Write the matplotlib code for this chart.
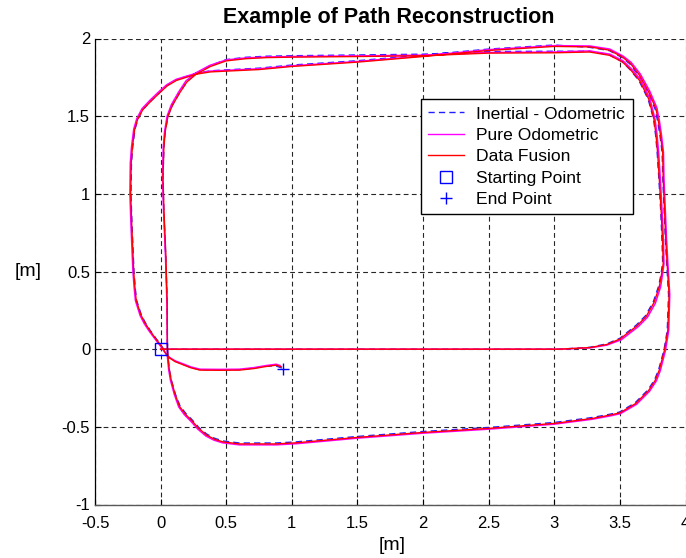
import matplotlib
matplotlib.use("Agg")
import matplotlib.pyplot as plt
from matplotlib.lines import Line2D

plt.rcParams['font.family'] = ['Liberation Sans', 'DejaVu Sans']
plt.rcParams['font.size'] = 12

# Reconstructed robot trajectories [m]
inertial_x = [
    0.00, 1.00, 2.00, 3.04, 3.27, 3.40, 3.50, 3.625, 3.695, 3.755, 3.795, 3.812, 3.826, 3.821, 3.812, 3.797, 3.784, 3.772, 3.757, 3.716, 3.646, 3.577, 3.518, 3.42, 3.27,
    3.00, 2.50, 2.00, 1.50, 1.00, 0.81, 0.65, 0.50, 0.38, 0.27, 0.20, 0.145, 0.09, 0.056, 0.035, 0.025, 0.018, 0.024, 0.039, 0.05, 0.052,
    0.056, 0.066, 0.082, 0.112, 0.148, 0.193, 0.237, 0.292, 0.352, 0.412, 0.476, 0.60, 0.88, 1.03, 1.50, 2.00, 2.50, 3.00, 3.29, 3.418, 3.497, 3.615, 3.714, 3.764, 3.795, 3.836, 3.861, 3.871, 3.857, 3.847, 3.837, 3.827, 3.822, 3.806, 3.79, 3.77, 3.715, 3.645, 3.577, 3.518, 3.42, 3.27,
    3.00, 2.50, 2.00, 1.50, 1.00, 0.75, 0.50, 0.38, 0.27, 0.12, 0.05, -0.008, -0.07, -0.134, -0.173, -0.196, -0.213, -0.222, -0.226, -0.218, -0.203, -0.194, -0.184, -0.148, -0.118, -0.082, -0.038, 0.002, 0.058, 0.112, 0.172, 0.232, 0.30, 0.45, 0.60, 0.71, 0.80, 0.88, 0.935,
]
inertial_y = [
    0.00, 0.00, 0.00, 0.00, 0.012, 0.034, 0.07, 0.155, 0.215, 0.305, 0.405, 0.475, 0.555, 0.70, 0.88, 1.10, 1.27, 1.38, 1.48, 1.608, 1.728, 1.80, 1.85, 1.895, 1.918,
    1.918, 1.916, 1.899, 1.894, 1.889, 1.886, 1.879, 1.864, 1.826, 1.774, 1.722, 1.651, 1.571, 1.50, 1.40, 1.30, 1.11, 0.90, 0.60, 0.30, 0.00,
    -0.05, -0.13, -0.20, -0.288, -0.366, -0.415, -0.452, -0.505, -0.547, -0.574, -0.591, -0.604, -0.604, -0.597, -0.562, -0.53, -0.504, -0.472, -0.44, -0.42, -0.405, -0.346, -0.262, -0.198, -0.133, -0.006, 0.12, 0.35, 0.55, 0.70, 0.90, 1.10, 1.265, 1.372, 1.456, 1.543, 1.65, 1.758, 1.836, 1.877, 1.922, 1.943,
    1.958, 1.932, 1.893, 1.857, 1.829, 1.809, 1.798, 1.792, 1.776, 1.734, 1.698, 1.652, 1.601, 1.544, 1.481, 1.414, 1.30, 1.198, 1.00, 0.80, 0.50, 0.40, 0.317, 0.223, 0.172, 0.124, 0.072, 0.028, -0.048, -0.078, -0.098, -0.118, -0.132, -0.133, -0.132, -0.122, -0.11, -0.108, -0.125,
]

odometric_x = [
    0.00, 1.00, 2.00, 3.04, 3.27, 3.40, 3.51, 3.64, 3.71, 3.77, 3.81, 3.823, 3.836, 3.832, 3.822, 3.808, 3.795, 3.783, 3.768, 3.728, 3.657, 3.585, 3.525, 3.425, 3.27,
    3.00, 2.50, 2.00, 1.50, 1.00, 0.81, 0.65, 0.50, 0.375, 0.265, 0.193, 0.137, 0.082, 0.05, 0.03, 0.02, 0.014, 0.022, 0.037, 0.048, 0.051,
    0.052, 0.061, 0.075, 0.104, 0.138, 0.183, 0.228, 0.285, 0.345, 0.407, 0.473, 0.60, 0.88, 1.03, 1.50, 2.00, 2.50, 3.00, 3.29, 3.425, 3.505, 3.627, 3.727, 3.778, 3.808, 3.848, 3.872, 3.88, 3.866, 3.856, 3.846, 3.836, 3.832, 3.817, 3.802, 3.782, 3.727, 3.656, 3.585, 3.524, 3.423, 3.27,
    3.00, 2.50, 2.00, 1.50, 1.00, 0.75, 0.50, 0.38, 0.27, 0.118, 0.046, -0.014, -0.077, -0.142, -0.182, -0.205, -0.222, -0.231, -0.234, -0.226, -0.211, -0.202, -0.192, -0.156, -0.125, -0.088, -0.043, -0.003, 0.054, 0.11, 0.17, 0.23, 0.30, 0.45, 0.60, 0.71, 0.80, 0.88, 0.91,
]
odometric_y = [
    0.00, 0.00, 0.00, 0.00, 0.008, 0.026, 0.06, 0.145, 0.205, 0.295, 0.40, 0.47, 0.55, 0.70, 0.88, 1.10, 1.27, 1.38, 1.48, 1.615, 1.737, 1.807, 1.856, 1.899, 1.92,
    1.913, 1.91, 1.893, 1.888, 1.884, 1.881, 1.875, 1.862, 1.827, 1.777, 1.727, 1.655, 1.574, 1.502, 1.40, 1.30, 1.11, 0.90, 0.60, 0.30, 0.00,
    -0.05, -0.13, -0.20, -0.29, -0.372, -0.424, -0.462, -0.516, -0.559, -0.586, -0.603, -0.616, -0.616, -0.609, -0.573, -0.541, -0.515, -0.483, -0.451, -0.43, -0.415, -0.355, -0.27, -0.204, -0.138, -0.006, 0.12, 0.35, 0.55, 0.70, 0.90, 1.10, 1.268, 1.378, 1.465, 1.554, 1.662, 1.771, 1.847, 1.887, 1.932, 1.952,
    1.954, 1.928, 1.888, 1.852, 1.824, 1.805, 1.795, 1.79, 1.776, 1.737, 1.702, 1.657, 1.606, 1.548, 1.483, 1.416, 1.30, 1.198, 1.00, 0.80, 0.50, 0.40, 0.313, 0.216, 0.165, 0.117, 0.066, 0.022, -0.046, -0.075, -0.094, -0.114, -0.129, -0.13, -0.129, -0.119, -0.106, -0.097, -0.105,
]

fusion_x = [
    0.00, 1.00, 2.00, 3.04, 3.27, 3.40, 3.50, 3.63, 3.70, 3.76, 3.80, 3.815, 3.83, 3.825, 3.815, 3.80, 3.787, 3.775, 3.76, 3.72, 3.65, 3.58, 3.52, 3.42, 3.27,
    3.00, 2.50, 2.00, 1.50, 1.00, 0.81, 0.65, 0.50, 0.38, 0.27, 0.20, 0.145, 0.09, 0.056, 0.035, 0.025, 0.018, 0.025, 0.04, 0.05, 0.052,
    0.056, 0.066, 0.081, 0.11, 0.145, 0.19, 0.234, 0.29, 0.35, 0.41, 0.475, 0.60, 0.88, 1.03, 1.50, 2.00, 2.50, 3.00, 3.29, 3.42, 3.50, 3.62, 3.72, 3.77, 3.80, 3.84, 3.865, 3.875, 3.86, 3.85, 3.84, 3.83, 3.826, 3.81, 3.795, 3.775, 3.72, 3.65, 3.58, 3.52, 3.42, 3.27,
    3.00, 2.50, 2.00, 1.50, 1.00, 0.75, 0.50, 0.38, 0.27, 0.12, 0.05, -0.008, -0.07, -0.135, -0.175, -0.198, -0.215, -0.224, -0.228, -0.22, -0.205, -0.196, -0.186, -0.15, -0.12, -0.084, -0.04, 0.00, 0.056, 0.11, 0.17, 0.23, 0.30, 0.45, 0.60, 0.71, 0.80, 0.88, 0.92,
]
fusion_y = [
    0.00, 0.00, 0.00, 0.00, 0.01, 0.03, 0.065, 0.15, 0.21, 0.30, 0.40, 0.47, 0.55, 0.70, 0.88, 1.10, 1.27, 1.38, 1.48, 1.61, 1.73, 1.80, 1.849, 1.892, 1.913,
    1.908, 1.906, 1.889, 1.884, 1.880, 1.877, 1.870, 1.856, 1.820, 1.770, 1.720, 1.650, 1.570, 1.500, 1.400, 1.300, 1.110, 0.900, 0.600, 0.300, 0.000,
    -0.05, -0.13, -0.20, -0.29, -0.37, -0.42, -0.457, -0.51, -0.553, -0.58, -0.597, -0.61, -0.61, -0.603, -0.568, -0.536, -0.51, -0.478, -0.446, -0.425, -0.41, -0.35, -0.265, -0.20, -0.135, -0.006, 0.12, 0.35, 0.55, 0.70, 0.90, 1.10, 1.268, 1.375, 1.46, 1.548, 1.655, 1.763, 1.84, 1.88, 1.925, 1.946,
    1.949, 1.923, 1.884, 1.848, 1.820, 1.800, 1.790, 1.785, 1.770, 1.730, 1.695, 1.650, 1.600, 1.543, 1.480, 1.414, 1.300, 1.198, 1.000, 0.800, 0.500, 0.400, 0.315, 0.220, 0.170, 0.122, 0.070, 0.026, -0.05, -0.08, -0.10, -0.12, -0.135, -0.136, -0.135, -0.125, -0.112, -0.103, -0.114,
]

series_labels = ['Inertial - Odometric', 'Pure Odometric', 'Data Fusion', 'Starting Point', 'End Point']
x_ticks = [-0.5, 0, 0.5, 1, 1.5, 2, 2.5, 3, 3.5, 4]
y_ticks = [-1, -0.5, 0, 0.5, 1, 1.5, 2]
x_tick_labels = ['-0.5', '0', '0.5', '1', '1.5', '2', '2.5', '3', '3.5', '4']
y_tick_labels = ['-1', '-0.5', '0', '0.5', '1', '1.5', '2']

W, H = 686, 558
fig = plt.figure(figsize=(W / 100, H / 100), dpi=100)
fig.patch.set_facecolor('white')
ax = fig.add_axes([95 / W, (H - 504.5) / H, (685.5 - 95) / W, (504.5 - 38.5) / H])

ax.plot(inertial_x, inertial_y, color='#2020ff', lw=1.0, linestyle=(0, (4.5, 3.0)), zorder=3)
ax.plot(odometric_x, odometric_y, color='#ff00ff', lw=1.1, zorder=3.1)
ax.plot(fusion_x, fusion_y, color='#ff0000', lw=1.0, zorder=3.2)
ax.plot(inertial_x[0], inertial_y[0], marker='s', ms=8.2, mfc='none', mec='#0000ff', mew=1.0,
        linestyle='none', zorder=4)
ax.plot(inertial_x[-1], inertial_y[-1], marker='+', ms=9, mec='#0000ff', mew=1.0,
        linestyle='none', zorder=4)

ax.set_xlim(-0.5, 4)
ax.set_ylim(-1, 2)
ax.set_xticks(x_ticks)
ax.set_xticklabels(x_tick_labels)
ax.set_yticks(y_ticks)
ax.set_yticklabels(y_tick_labels)
ax.tick_params(direction='in', length=4, width=0.8, labelsize=12)
ax.tick_params(axis='x', pad=8)
ax.tick_params(axis='y', pad=3.5)
ax.grid(True, color='0.15', linestyle=(0, (4.3, 3.0)), linewidth=0.8)

ax.spines['top'].set_visible(False)
ax.spines['right'].set_visible(False)
ax.spines['left'].set_color('black')
ax.spines['left'].set_linewidth(0.9)
ax.spines['bottom'].set_color('0.35')
ax.spines['bottom'].set_linewidth(1.0)

fig.text(388.5 / W, 1 - 17 / H, 'Example of Path Reconstruction', fontsize=15.5,
         fontweight='bold', ha='center', va='center')
ax.set_xlabel('[m]', fontsize=14, va='center', ha='center')
ax.xaxis.set_label_coords((392 - 95) / 590.5, (504.5 - 545) / 466)
ax.set_ylabel('[m]', fontsize=14, rotation=0, va='center', ha='center')
ax.yaxis.set_label_coords((28 - 95) / 590.5, 0.5)

handles = [
    Line2D([], [], color='#2020ff', lw=1.0, linestyle=(0, (4.5, 3.0))),
    Line2D([], [], color='#ff00ff', lw=1.0),
    Line2D([], [], color='#ff0000', lw=1.0),
    Line2D([], [], marker='s', ms=8.2, mfc='none', mec='#0000ff', mew=1.0, linestyle='none'),
    Line2D([], [], marker='+', ms=9, mec='#0000ff', mew=1.0, linestyle='none'),
]
leg = fig.legend(handles, series_labels, loc='upper left',
                 bbox_to_anchor=(421 / W, 1 - 99 / H), frameon=True, fancybox=False,
                 framealpha=1, edgecolor='black', fontsize=12.6, handlelength=2.05,
                 handletextpad=0.7, labelspacing=0.35, borderpad=0.42, borderaxespad=0)
leg.get_frame().set_linewidth(1.0)

fig.savefig('out.png', dpi=100, facecolor='white')
